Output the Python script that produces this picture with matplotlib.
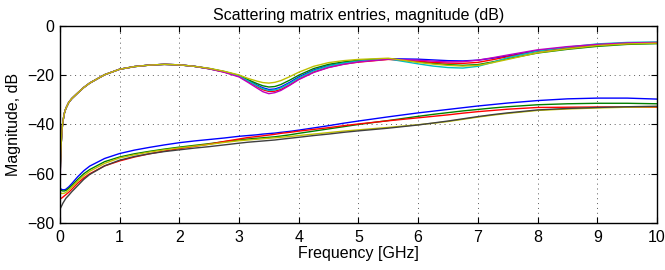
import matplotlib
matplotlib.use("Agg")
import matplotlib.pyplot as plt

# Frequency samples (GHz)
freq = [0, 0.01, 0.02, 0.035, 0.05, 0.075, 0.1, 0.15, 0.2, 0.3, 0.4, 0.5, 0.75, 1.0, 1.25, 1.5,
        1.75, 2.0, 2.25, 2.5, 2.75, 3.0, 3.15, 3.3, 3.4, 3.5, 3.6, 3.7, 3.85, 4.0, 4.25, 4.5,
        4.75, 5.0, 5.5, 6.0, 6.25, 6.5, 6.75, 7.0, 7.25, 7.5, 8.0, 8.5, 9.0, 9.5, 10.0]

# Upper group (reflection-type entries), dB
top_b = [-66, -56, -49, -42.5, -39, -35.5, -33.5, -31, -29.5, -27.2, -25, -23.2, -19.8, -17.6, -16.5, -15.9,
         -15.6, -15.8, -16.4, -17.3, -18.6, -20.3, -22.1, -24.0, -25.1, -25.8, -25.6, -24.8, -22.9, -20.7, -17.9, -16.1,
         -15.0, -14.2, -13.3, -13.5, -13.8, -14.1, -14.2, -13.9, -13.1, -12.2, -10.0, -8.7, -7.6, -7.0, -6.8]
top_g = [-66, -56, -49, -42.5, -39, -35.5, -33.5, -31, -29.5, -27.2, -25, -23.2, -19.8, -17.6, -16.5, -15.9,
         -15.6, -15.8, -16.4, -17.3, -18.5, -20.1, -21.8, -23.4, -24.3, -24.8, -24.6, -23.8, -22.0, -20.0, -17.3, -15.6,
         -14.6, -13.9, -13.3, -14.6, -15.2, -15.7, -16.0, -15.7, -14.6, -13.3, -11.0, -9.5, -8.3, -7.5, -7.2]
top_r = [-66, -56, -49, -42.5, -39, -35.5, -33.5, -31, -29.5, -27.2, -25, -23.2, -19.8, -17.6, -16.5, -15.9,
         -15.6, -15.8, -16.4, -17.4, -18.7, -20.5, -22.5, -24.6, -25.9, -26.6, -26.5, -25.8, -23.9, -21.6, -18.7, -16.8,
         -15.5, -14.7, -13.6, -14.3, -14.8, -15.1, -15.2, -14.8, -13.7, -12.5, -10.3, -8.9, -7.8, -7.1, -6.9]
top_c = [-66, -56, -49, -42.5, -39, -35.5, -33.5, -31, -29.5, -27.2, -25, -23.2, -19.8, -17.6, -16.5, -15.9,
         -15.6, -15.8, -16.4, -17.4, -18.6, -20.4, -22.3, -24.3, -25.5, -26.2, -26.0, -25.2, -23.3, -21.1, -18.2, -16.3,
         -15.1, -14.3, -13.4, -15.4, -16.3, -16.9, -17.1, -16.4, -14.8, -12.9, -10.2, -8.6, -7.3, -6.7, -6.5]
top_m = [-85, -56, -49, -42.5, -39, -35.5, -33.5, -31, -29.5, -27.2, -25, -23.2, -19.8, -17.6, -16.5, -15.9,
         -15.6, -15.8, -16.4, -17.4, -18.8, -20.7, -22.9, -25.2, -26.7, -27.5, -27.1, -26.2, -24.1, -21.8, -18.9, -16.9,
         -15.6, -14.6, -13.5, -13.9, -14.3, -14.6, -14.5, -13.9, -12.9, -11.8, -9.7, -8.4, -7.5, -6.9, -6.7]
top_y = [-66, -56, -49, -42.5, -39, -35.5, -33.5, -31, -29.5, -27.2, -25, -23.2, -19.8, -17.6, -16.5, -15.9,
         -15.6, -15.8, -16.4, -17.2, -18.4, -19.9, -21.3, -22.4, -23.0, -23.2, -22.9, -22.2, -20.6, -18.8, -16.4, -14.9,
         -14.1, -13.6, -13.1, -14.8, -15.5, -16.0, -16.3, -16.0, -14.9, -13.6, -10.9, -9.3, -8.0, -7.3, -7.0]

# Lower group (transmission-type entries), dB
bot_b = [-65.8, -66.0, -66.2, -66.4, -66.5, -66.5, -66.3, -65.3, -64.0, -61.2, -58.8, -56.9, -53.8, -51.8, -50.4, -49.3,
         -48.3, -47.4, -46.7, -46.1, -45.5, -44.8, -44.5, -44.2, -43.9, -43.7, -43.5, -43.2, -42.8, -42.3, -41.4, -40.5,
         -39.5, -38.6, -36.9, -35.3, -34.6, -33.9, -33.2, -32.5, -31.9, -31.3, -30.3, -29.6, -29.3, -29.3, -29.7]
bot_g = [-66.3, -66.5, -66.7, -66.9, -67.0, -67.0, -66.8, -65.9, -64.8, -62.3, -60.0, -58.3, -55.1, -53.2, -51.9, -50.9,
         -50.0, -49.2, -48.5, -47.8, -47.0, -46.3, -45.9, -45.6, -45.4, -45.2, -45.0, -44.7, -44.2, -43.6, -42.7, -41.8,
         -40.9, -40.0, -38.4, -36.7, -35.9, -35.2, -34.5, -33.9, -33.3, -32.8, -32.0, -31.6, -31.4, -31.4, -31.6]
bot_r = [-70.3, -70.2, -70.0, -69.8, -69.5, -69.0, -68.5, -67.5, -66.3, -63.8, -61.7, -60.0, -56.8, -54.8, -53.2, -51.9,
         -50.8, -49.8, -48.9, -48.0, -46.9, -45.9, -45.3, -44.9, -44.6, -44.3, -44.0, -43.6, -43.2, -42.7, -42.0, -41.3,
         -40.5, -39.8, -38.5, -37.3, -36.7, -36.1, -35.4, -34.8, -34.3, -33.8, -33.1, -33.0, -32.9, -32.9, -33.0]
bot_y = [-67.5, -67.7, -67.9, -68.0, -68.0, -67.9, -67.6, -66.6, -65.4, -63.0, -60.8, -59.0, -55.8, -53.6, -52.3, -51.2,
         -50.3, -49.5, -48.8, -48.1, -47.3, -46.6, -46.3, -46.0, -45.8, -45.6, -45.4, -45.2, -44.9, -44.5, -43.9, -43.3,
         -42.7, -42.2, -41.2, -40.1, -39.5, -38.8, -37.9, -37.0, -36.2, -35.5, -34.3, -33.7, -33.3, -33.0, -32.8]
bot_k = [-74.4, -74.0, -73.5, -72.8, -72.0, -71.0, -70.0, -68.7, -67.3, -64.8, -62.3, -60.3, -56.8, -54.5, -53.0, -51.9,
         -51.0, -50.3, -49.6, -49.0, -48.3, -47.6, -47.2, -46.9, -46.7, -46.5, -46.3, -46.0, -45.6, -45.2, -44.5, -43.9,
         -43.2, -42.6, -41.5, -40.2, -39.4, -38.6, -37.7, -36.8, -36.0, -35.3, -34.1, -33.5, -33.1, -32.8, -32.6]

xticks = [0, 1, 2, 3, 4, 5, 6, 7, 8, 9, 10]
yticks = [-80, -60, -40, -20, 0]

plt.rcParams['font.family'] = ['Liberation Sans', 'DejaVu Sans']

fig = plt.figure(figsize=(6.65, 2.7), dpi=100)
ax = fig.add_axes([0.090, 0.174, 0.898, 0.730])

series = [
    (top_b, '#0000ff'), (top_g, '#008000'), (top_r, '#ff0000'),
    (top_c, '#00bfbf'), (top_m, '#bf00bf'), (top_y, '#bfbf00'),
    (bot_b, '#0000ff'), (bot_g, '#008000'), (bot_r, '#ff0000'),
    (bot_y, '#bfbf00'), (bot_k, '#404040'),
]
for vals, col in series:
    ax.plot(freq, vals, color=col, lw=1.0, solid_joinstyle='round')

ax.set_xlim(0, 10)
ax.set_ylim(-80, 0)
ax.set_xticks(xticks)
ax.set_yticks(yticks)
ax.set_xticklabels([str(t) for t in xticks])
ax.set_yticklabels([str(t).replace('-', '\u2212') for t in yticks])
ax.tick_params(direction='in', top=True, right=True, length=4, labelsize=11.5, width=0.8)
ax.tick_params(axis='x', pad=5)
ax.tick_params(axis='y', pad=4)
ax.grid(True, color='0.35', linestyle=(0, (1, 4)), linewidth=0.7)
for s in ax.spines.values():
    s.set_linewidth(1.0)
ax.set_xlabel('Frequency [GHz]', fontsize=11.5, labelpad=1)
ax.set_ylabel('Magnitude, dB', fontsize=11.5, labelpad=4)
ax.set_title('Scattering matrix entries, magnitude (dB)', fontsize=11.5, pad=4)

fig.savefig('out.png', dpi=100)
